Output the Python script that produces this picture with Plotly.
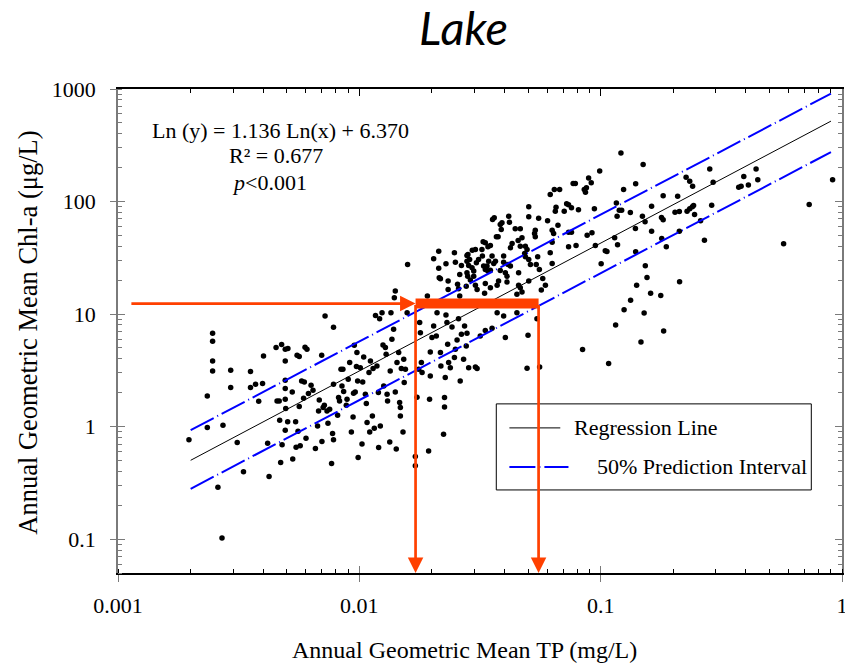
import math
import plotly.graph_objects as go

# ---------------- data (log10 of values) ----------------
# lower-left / central cloud
tp_log10_a = [
    -2.706, -2.630, -2.630, -2.608, -2.608, -2.608, -2.608, -2.586, -2.569, -2.565,
    -2.533, -2.533, -2.506, -2.480, -2.451, -2.451, -2.430, -2.417, -2.401, -2.397,
    -2.380, -2.374, -2.345, -2.326, -2.322, -2.320, -2.341, -2.332, -2.330, -2.307,
    -2.296, -2.307, -2.307, -2.307, -2.307, -2.305, -2.297, -2.307, -2.278, -2.276,
    -2.264, -2.258, -2.249, -2.262, -2.254, -2.245, -2.249, -2.239, -2.228, -2.225,
    -2.217, -2.231, -2.221, -2.211, -2.200, -2.192, -2.182, -2.173, -2.166, -2.169,
    -2.156, -2.155, -2.150, -2.145, -2.142, -2.134, -2.130, -2.123, -2.115, -2.111,
    -2.107, -2.107, -2.107, -2.090, -2.086, -2.082, -2.076, -2.068, -2.072, -2.065,
    -2.054, -2.051, -2.046, -2.040, -2.033, -2.026, -2.021, -2.017, -2.012, -2.010,
    -2.007, -2.005, -2.024, -1.996, -1.989, -1.986, -1.982, -1.975, -1.971, -1.968,
    -1.960, -1.957, -1.954, -1.946, -1.943, -1.938, -1.933, -1.927, -1.921, -1.920,
    -1.916, -1.913, -1.906, -1.902, -1.899, -1.892, -1.889, -1.885, -1.883, -1.874,
    -1.872, -1.869, -1.865, -1.858, -1.851, -1.847, -1.844, -1.837, -1.833, -1.830,
    -1.830, -1.826, -1.819, -1.816, -1.814, -1.809, -1.802, -1.768, -1.768, -1.761,
    -1.754, -1.750, -1.747, -1.743, -1.740, -1.713, -1.709, -1.706, -1.699, -1.706,
    -1.692, -1.681, -1.678, -1.664, -1.662, -1.651, -1.647, -1.647, -1.644, -1.641,
    -1.637, -1.634, -1.630, -1.623, -1.616, -1.606, -1.602, -1.595, -1.589, -1.582,
    -1.577, -1.568, -1.564, -1.557, -1.554, -1.547, -1.519, -1.512, -1.499, -1.478,
    -1.450, -1.429, -1.402, -1.395, -1.347, -1.305, -1.301, -1.264, -1.253, -1.075,
]
chla_log10_a = [
    -0.118, 0.272, -0.008, 0.829, 0.758, 0.583, 0.494, -0.538, -0.990, 0.012,
    0.500, 0.347, -0.141, -0.402, 0.489, 0.347, 0.376, 0.225, 0.382, 0.627,
    -0.147, -0.443, 0.702, -0.318, 0.729, -0.162, 0.228, 0.228, 0.057, 0.687,
    0.693, 0.583, 0.412, 0.338, 0.243, 0.161, 0.042, -0.032, 0.308, -0.289,
    0.042, 0.634, 0.622, -0.183, -0.041, -0.171, 0.178, 0.406, 0.397, 0.705,
    0.687, 0.252, -0.103, 0.294, 0.367, 0.323, -0.194, 0.006, 0.237, 0.139,
    0.634, -0.132, 0.170, 0.190, 0.982, 0.139, 0.030, 0.154, -0.327, -0.061,
    0.882, 0.376, -0.118, 0.101, 0.258, 0.228, 0.509, 0.509, 0.361, 0.311,
    0.190, 0.243, 0.421, 0.569, -0.047, 0.086, 0.722, 0.308, 0.533, 0.658,
    0.406, -0.274, 0.296, 0.524, -0.154, 0.397, 0.618, 0.288, 0.205, 0.036,
    0.480, -0.047, 0.583, 0.095, 0.516, -0.014, 0.988, 0.539, 0.303, -0.185,
    0.959, 0.006, 1.012, 0.725, 0.361, 0.702, 0.642, 0.288, 0.228, -0.136,
    0.494, 1.012, 0.776, 0.864, 0.308, -0.200, 0.569, 0.658, 0.214, 0.170,
    0.095, 0.516, -0.047, 0.598, 0.391, 0.509, 1.012, -0.265, -0.349, 0.261,
    0.509, 0.924, 0.835, 0.569, 0.480, -0.216, 0.243, 0.450, 0.791, 0.663,
    0.894, 0.805, 1.012, 0.658, 0.539, -0.067, 0.258, 0.175, 0.436, 0.991,
    0.924, 0.731, 0.569, 0.524, 0.885, 0.613, 0.687, 0.769, 0.959, 0.406,
    0.820, 0.598, 0.894, 0.716, 0.829, 0.524, 0.530, 0.516, 0.805, 0.855,
    0.873, 1.012, 0.982, 0.791, 1.012, 0.518, 0.811, 0.959, 0.530, 0.684,
]

# cloud around TP 0.015-0.03
tp_log10_b = [
    -1.800, -1.671, -1.692, -1.606, -1.671, -1.641, -1.602, -1.577, -1.554, -1.550,
    -1.532, -1.519, -1.487, -1.492, -1.506, -1.515, -1.543, -1.554, -1.547, -1.533,
    -1.526, -1.490, -1.485, -1.669, -1.664, -1.632, -1.584, -1.554, -1.551, -1.593,
    -1.589, -1.632, -1.540, -1.526, -1.519, -1.512, -1.557, -1.481, -1.851, -1.855,
    -1.718, -1.584,
]
chla_log10_b = [
    1.441, 1.559, 1.492, 1.545, 1.406, 1.447, 1.461, 1.432, 1.521, 1.530,
    1.568, 1.574, 1.642, 1.574, 1.485, 1.456, 1.485, 1.470, 1.432, 1.412,
    1.382, 1.515, 1.426, 1.323, 1.314, 1.293, 1.352, 1.367, 1.337, 1.264,
    1.225, 1.219, 1.302, 1.337, 1.255, 1.219, 1.248, 1.184, 1.204, 1.146,
    1.160, 1.160,
]

# cloud around TP 0.03-0.1
tp_log10_c = [
    -1.004, -1.050, -1.039, -1.068, -1.063, -1.059, -1.114, -1.105, -1.209, -1.192,
    -1.170, -1.141, -1.133, -1.185, -1.188, -1.151, -1.121, -1.092, -1.026, -1.298,
    -1.257, -1.298, -1.220, -1.448, -1.441, -1.416, -1.409, -1.381, -1.378, -1.354,
    -1.333, -1.412, -1.271, -1.274, -1.271, -1.326, -1.342, -1.201, -1.195, -1.177,
    -1.133, -1.121, -1.036, -1.056, -1.432, -1.425, -1.367, -1.374, -1.312, -1.305,
    -1.315, -1.333, -1.478, -1.457, -1.467, -1.201, -1.209, -1.133, -1.102, -1.450,
    -1.464, -1.436, -1.443, -1.402, -1.402, -1.384, -1.374, -1.312, -1.298, -1.291,
    -1.261, -1.267, -1.254, -1.478, -1.471, -1.467, -1.457, -1.416, -1.395, -1.388,
    -1.340, -1.201, -1.240, -1.229, -1.298, -1.423, -1.429, -1.457, -1.478, -1.388,
    -1.340, -1.333, -1.326, -1.347, -1.246, -1.022, -0.998,
]
chla_log10_c = [
    2.272, 2.210, 2.166, 2.106, 2.083, 2.122, 2.160, 2.160, 2.062, 2.106,
    2.106, 1.980, 1.971, 1.949, 1.914, 1.914, 1.944, 1.926, 1.935, 1.953,
    1.852, 1.864, 1.829, 1.840, 1.855, 1.796, 1.811, 1.870, 1.816, 1.758,
    1.758, 1.752, 1.745, 1.716, 1.687, 1.678, 1.654, 1.745, 1.716, 1.790,
    1.728, 1.728, 1.722, 1.701, 1.687, 1.687, 1.627, 1.589, 1.603, 1.574,
    1.539, 1.603, 1.634, 1.610, 1.598, 1.639, 1.545, 1.598, 1.610, 1.515,
    1.470, 1.470, 1.450, 1.515, 1.461, 1.441, 1.426, 1.509, 1.485, 1.441,
    1.509, 1.441, 1.397, 1.397, 1.426, 1.382, 1.390, 1.388, 1.367, 1.337,
    1.367, 1.450, 1.317, 1.257, 1.293, 1.293, 1.257, 1.234, 1.272, 1.284,
    1.257, 1.234, 1.195, 1.175, 1.213, 1.610, 1.447,
]

# high TP lakes (> 0.1 mg/L)
tp_log10_d = [
    -0.916, -0.824, -0.548, -0.356, -0.407, -0.349, -0.388, -0.428, -0.418, -0.646,
    -0.631, -0.619, -0.534, -0.039, -0.905, -0.855, -0.935, -0.932, -0.923, -0.913,
    -0.877, -0.789, -0.741, -0.681, -0.827, -0.816, -0.856, -0.789, -0.748, -0.741,
    -0.692, -0.674, -0.642, -0.631, -0.620, -0.615, -0.611, -0.586, -0.540, -0.674,
    -0.570, -0.747, -0.728, -0.855, -0.942, -0.930, -0.981, -0.974, -0.136, -0.242,
    -0.815, -0.808, -0.851, -0.673, -0.793, -0.751, -0.876, -0.903, -0.820, -0.938,
    -0.739, -0.833, -0.967,
]
chla_log10_d = [
    2.432, 2.328, 2.290, 2.290, 2.222, 2.193, 2.148, 2.127, 2.136, 2.216,
    2.180, 2.136, 2.171, 2.193, 2.106, 2.157, 1.988, 1.870, 1.923, 1.923,
    1.902, 1.958, 2.051, 2.047, 1.870, 1.820, 1.760, 1.736, 1.858, 1.838,
    1.905, 1.911, 1.914, 1.935, 1.953, 1.965, 1.885, 1.829, 1.967, 1.736,
    1.657, 1.672, 1.598, 1.554, 1.678, 1.616, 1.563, 1.556, 1.973, 1.625,
    1.429, 1.326, 1.257, 1.288, 1.184, 1.166, 1.122, 1.039, 1.009, 0.902,
    0.849, 0.752, 0.560,
]

tp = [10 ** v for v in tp_log10_a + tp_log10_b + tp_log10_c + tp_log10_d]
chla = [10 ** v for v in chla_log10_a + chla_log10_b + chla_log10_c + chla_log10_d]

# regression Ln(y) = 1.136 Ln(x) + 6.370
reg_slope = 1.136
reg_intercept = 6.370
line_tp = [0.002, 0.9]
reg_chla = [math.exp(reg_slope * math.log(x) + reg_intercept) for x in line_tp]
pi_upper_chla = [0.93, 910.0]
pi_lower_chla = [0.28, 275.0]

# red guide arrows
guide_chla = 12.4
guide_tp_start = 0.00112
guide_tp_low = 0.0171
guide_tp_high = 0.0553
axis_bottom_chla = 0.05

x_ticks = [0.001, 0.01, 0.1, 1]
x_ticktext = ["0.001", "0.01", "0.1", "1"]
y_ticks = [0.1, 1, 10, 100, 1000]
y_ticktext = ["0.1", "1", "10", "100", "1000"]

# ---------------- figure ----------------
SERIF = "Liberation Serif, Times New Roman, serif"
RED = "#FF4000"
BLUE = "#0000FF"
GRAY = "#7a7a7a"
DASH = "26px,4px,1px,4px"

fig = go.Figure()

fig.add_trace(go.Scatter(
    x=tp, y=chla, mode="markers",
    marker=dict(color="black", size=5.5, line=dict(width=0)),
    showlegend=False, hoverinfo="skip"))

fig.add_trace(go.Scatter(x=line_tp, y=reg_chla, mode="lines",
                         line=dict(color="black", width=1), showlegend=False))
for ys in (pi_upper_chla, pi_lower_chla):
    fig.add_trace(go.Scatter(x=line_tp, y=ys, mode="lines",
                             line=dict(color=BLUE, width=2, dash=DASH),
                             showlegend=False))

# thick red bar
fig.add_trace(go.Scatter(x=[guide_tp_low, guide_tp_high], y=[guide_chla, guide_chla],
                         mode="lines", line=dict(color=RED, width=10), showlegend=False))

# dummy traces for mirror / inner tick axes
fig.add_trace(go.Scatter(x=[None], y=[None], xaxis="x2", yaxis="y2", showlegend=False))
fig.add_trace(go.Scatter(x=[None], y=[None], xaxis="x3", yaxis="y3", showlegend=False))

xr = [math.log10(0.001), math.log10(1)]
yr = [math.log10(axis_bottom_chla), math.log10(1000)]

tickfont = dict(family=SERIF, size=22, color="black")

fig.update_layout(
    width=845, height=666,
    margin=dict(l=118, r=3, t=89, b=93, autoexpand=False),
    paper_bgcolor="white", plot_bgcolor="white",
    showlegend=False,
    xaxis=dict(type="log", range=xr, tickvals=x_ticks, ticktext=x_ticktext,
               ticks="outside", ticklen=7, tickwidth=1, tickcolor=GRAY,
               showline=True, linecolor="black", linewidth=1.5,
               showgrid=False, zeroline=False, tickfont=tickfont,
               ticklabelstandoff=5, automargin=False, ticklabeloverflow="allow",
               minor=dict(ticks="inside", ticklen=4, tickcolor="black", dtick="D1",
                          showgrid=False)),
    yaxis=dict(type="log", range=yr, tickvals=y_ticks, ticktext=y_ticktext,
               ticks="outside", ticklen=6, tickwidth=1, tickcolor=GRAY,
               showline=True, linecolor=GRAY, linewidth=1.5,
               showgrid=False, zeroline=False, tickfont=tickfont,
               ticklabelstandoff=10, automargin=False, ticklabeloverflow="allow",
               minor=dict(ticks="inside", ticklen=4, tickcolor=GRAY, dtick="D1",
                          showgrid=False)),
    xaxis2=dict(type="log", range=xr, overlaying="x", side="top", anchor="y2",
                tickvals=x_ticks, ticks="inside", ticklen=7, tickcolor="black",
                showticklabels=False, showline=True, linecolor="black", linewidth=1.5,
                showgrid=False, zeroline=False, automargin=False,
                minor=dict(ticks="inside", ticklen=4, tickcolor="black", dtick="D1",
                           showgrid=False)),
    yaxis2=dict(type="log", range=yr, overlaying="y", side="right", anchor="x2",
                tickvals=y_ticks, ticks="inside", ticklen=7, tickcolor=GRAY,
                showticklabels=False, showline=True, linecolor=GRAY, linewidth=1.5,
                showgrid=False, zeroline=False, automargin=False,
                minor=dict(ticks="inside", ticklen=4, tickcolor=GRAY, dtick="D1",
                           showgrid=False)),
    xaxis3=dict(type="log", range=xr, overlaying="x", side="bottom", anchor="y3",
                tickvals=x_ticks, ticks="inside", ticklen=7, tickcolor=GRAY,
                showticklabels=False, showline=False, showgrid=False, zeroline=False,
                automargin=False),
    yaxis3=dict(type="log", range=yr, overlaying="y", side="left", anchor="x3",
                tickvals=y_ticks, ticks="inside", ticklen=7, tickcolor=GRAY,
                showticklabels=False, showline=False, showgrid=False, zeroline=False,
                automargin=False),
)

annotations = []
# red arrows (annotation coordinates on log axes are log10 values)
lg = math.log10
arrow_common = dict(xref="x", yref="y", axref="x", ayref="y", text="", showarrow=True,
                    arrowhead=2, arrowsize=1.15, arrowwidth=2.7, arrowcolor=RED, standoff=0)
annotations.append(dict(x=lg(guide_tp_low), y=lg(guide_chla),
                        ax=lg(guide_tp_start), ay=lg(guide_chla), **arrow_common))
annotations.append(dict(x=lg(guide_tp_low), y=lg(axis_bottom_chla),
                        ax=lg(guide_tp_low), ay=lg(guide_chla), **arrow_common))
annotations.append(dict(x=lg(guide_tp_high), y=lg(axis_bottom_chla),
                        ax=lg(guide_tp_high), ay=lg(guide_chla), **arrow_common))

txt = dict(xref="paper", yref="paper", showarrow=False,
           font=dict(family=SERIF, size=22, color="black"))
annotations += [
    dict(text="Ln (y) = 1.136 Ln(x) + 6.370", x=0.2242, y=0.9138,
         xanchor="center", yanchor="middle", **txt),
    dict(text="R² = 0.677", x=0.2186, y=0.8621, xanchor="center", yanchor="middle", **txt),
    dict(text="<i>p</i>&lt;0.001", x=0.2090, y=0.8063, xanchor="center", yanchor="middle", **txt),
    dict(text="Regression Line", x=0.6275, y=0.2998, xanchor="left", yanchor="middle", **txt),
    dict(text="50% Prediction Interval", x=0.6592, y=0.2191, xanchor="left", yanchor="middle", **txt),
    dict(text="Annual Geometric Mean TP (mg/L)", x=0.478, y=-0.159,
         xanchor="center", yanchor="middle", xref="paper", yref="paper", showarrow=False,
         font=dict(family=SERIF, size=24, color="black")),
    dict(text="Annual Geometric Mean Chl-a (μg/L)", x=-0.124, y=0.497, textangle=-90,
         xanchor="center", yanchor="middle", xref="paper", yref="paper", showarrow=False,
         font=dict(family=SERIF, size=26.5, color="black")),
    dict(text="<i>Lake</i>", x=0.4776, y=1.128, xanchor="center", yanchor="middle",
         xref="paper", yref="paper", showarrow=False,
         font=dict(family="Lato, Open Sans, sans-serif", size=47, color="black")),
]
fig.update_layout(annotations=annotations)

# legend box drawn by hand
shapes = [
    dict(type="rect", xref="paper", yref="paper", x0=0.5225, x1=0.9576, y0=0.1716, y1=0.3494,
         line=dict(color="black", width=1), fillcolor="white", layer="above"),
    dict(type="line", xref="paper", yref="paper", x0=0.5406, x1=0.6109, y0=0.2998, y1=0.2998,
         line=dict(color="black", width=1), layer="above"),
    dict(type="line", xref="paper", yref="paper", x0=0.5406, x1=0.6222, y0=0.2191, y1=0.2191,
         line=dict(color=BLUE, width=2, dash=DASH), layer="above"),
]
fig.update_layout(shapes=shapes)

fig.write_html(
    "out.html",
    config={"displayModeBar": False},
    post_script="document.body.style.margin='0px';document.body.style.overflow='hidden';",
)
